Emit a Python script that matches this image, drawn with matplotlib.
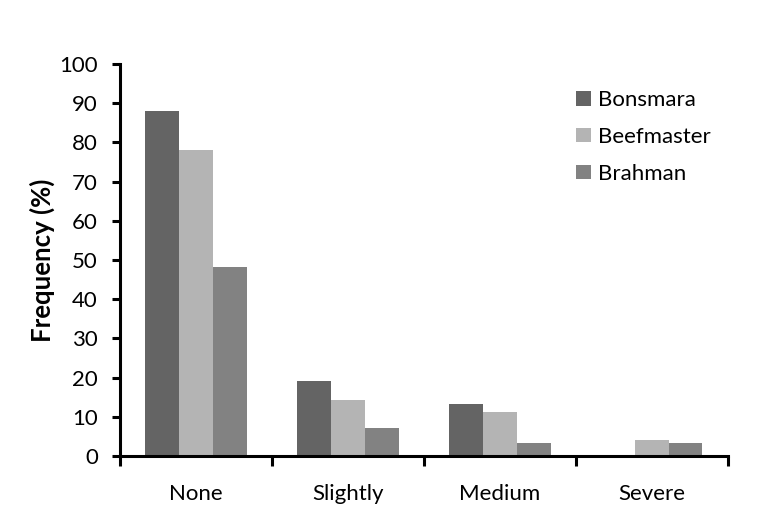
import matplotlib.pyplot as plt
import numpy as np

categorias = ['None', 'Slightly', 'Medium', 'Severe']
razas = ['Bonsmara', 'Beefmaster', 'Brahman']
bonsmara = [88.0, 19.1, 13.3, 0.0]
beefmaster = [78.0, 14.2, 11.2, 4.2]
brahman = [48.2, 7.1, 3.4, 3.4]
colores = ['#646464', '#b4b4b4', '#828282']

plt.rcParams['font.family'] = ['Lato', 'DejaVu Sans']

fig = plt.figure(figsize=(7.57, 5.17), dpi=100)
ax = fig.add_axes([0.1585, 0.118, 0.803, 0.758])

x = np.arange(len(categorias))
w = 0.222
for i, (serie, c, nombre) in enumerate(zip([bonsmara, beefmaster, brahman], colores, razas)):
    ax.bar(x + (i - 1) * w, serie, w, color=c, label=nombre)

ax.set_xlim(-0.5, 3.5)
ax.set_ylim(0, 100)
ax.set_yticks(np.arange(0, 101, 10))
ax.set_xticks(x)
ax.set_xticklabels(categorias, fontsize=16)
ax.set_xticks(np.arange(-0.5, 3.6, 1), minor=True)
ax.tick_params(axis='x', which='major', length=0, pad=20)
ax.tick_params(axis='x', which='minor', length=7, width=2.2, direction='out')
ax.tick_params(axis='y', length=6, width=2.2, labelsize=16, pad=10)
for s in ['top', 'right']:
    ax.spines[s].set_visible(False)
for s in ['left', 'bottom']:
    ax.spines[s].set_linewidth(2.2)

ax.set_ylabel('Frequency (%)', fontsize=18.5, fontweight='bold', labelpad=3)

ax.legend(loc='upper left', bbox_to_anchor=(0.718, 0.985), frameon=False, fontsize=16,
          handlelength=0.65, handleheight=0.65, handletextpad=0.3, labelspacing=0.76)

fig.savefig('out.png', dpi=100)
